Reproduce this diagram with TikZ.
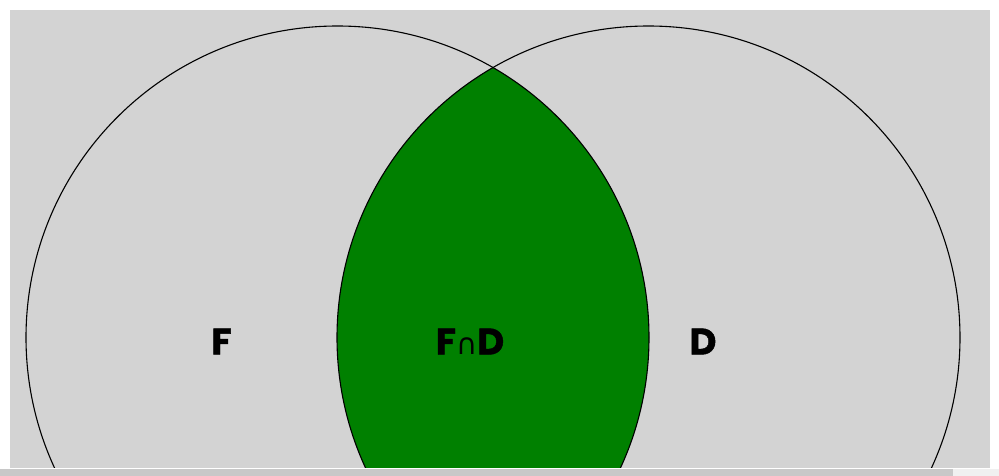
\documentclass[tikz,border=0pt]{standalone}
\usepackage{fontspec}
\newfontfamily\labelfont{Poppins}[BoldFont=* Bold, BoldFeatures={FakeBold=1.2}]
\newfontfamily\symfont{DejaVu Sans}
\usetikzlibrary{positioning}
\definecolor{vennbg}{RGB}{211, 211, 211}
\definecolor{venngreen}{RGB}{0, 128, 0}
\definecolor{barbg}{RGB}{200, 200, 200}
\definecolor{barend}{RGB}{240, 240, 240}

\begin{document}
\begin{tikzpicture}[
        x=1pt, y=-1pt,
        setlabel/.style={font=\labelfont\bfseries\fontsize{37}{37}\selectfont, inner sep=0pt, anchor=base},
        setring/.style={draw=black, line width=1.1pt}
    ]
        \useasboundingbox (0,0) rectangle (999,476);

        % --- fondo ---
        \fill[white] (0,0) rectangle (999,476);
        \fill[vennbg] (10,10) rectangle (990,467.5);

        % --- conjuntos ---
        \coordinate (cF) at (337.5,337.5);
        \coordinate (cD) at (648.5,337.5);
        \begin{scope}
            \clip (10,10) rectangle (990,467.5);
            \begin{scope}
                \clip (cF) circle (311.5);
                \fill[venngreen] (cD) circle (311.5);
            \end{scope}
            \draw[setring] (cF) circle (311.5);
            \draw[setring] (cD) circle (311.5);
        \end{scope}

        % --- etiquetas ---
        \node[setlabel] (labF) at (221.5,354.5) {F};
        \node[setlabel] (labFD) at (470,354.5) {F{\symfont\mdseries\fontsize{29}{29}\selectfont ∩}D};
        \node[setlabel] (labD) at (703,354.5) {D};

        % barra inferior
        \fill[barbg] (0,469) rectangle (953,476);
        \fill[barend] (953,469) rectangle (999,476);
\end{tikzpicture}
\end{document}
